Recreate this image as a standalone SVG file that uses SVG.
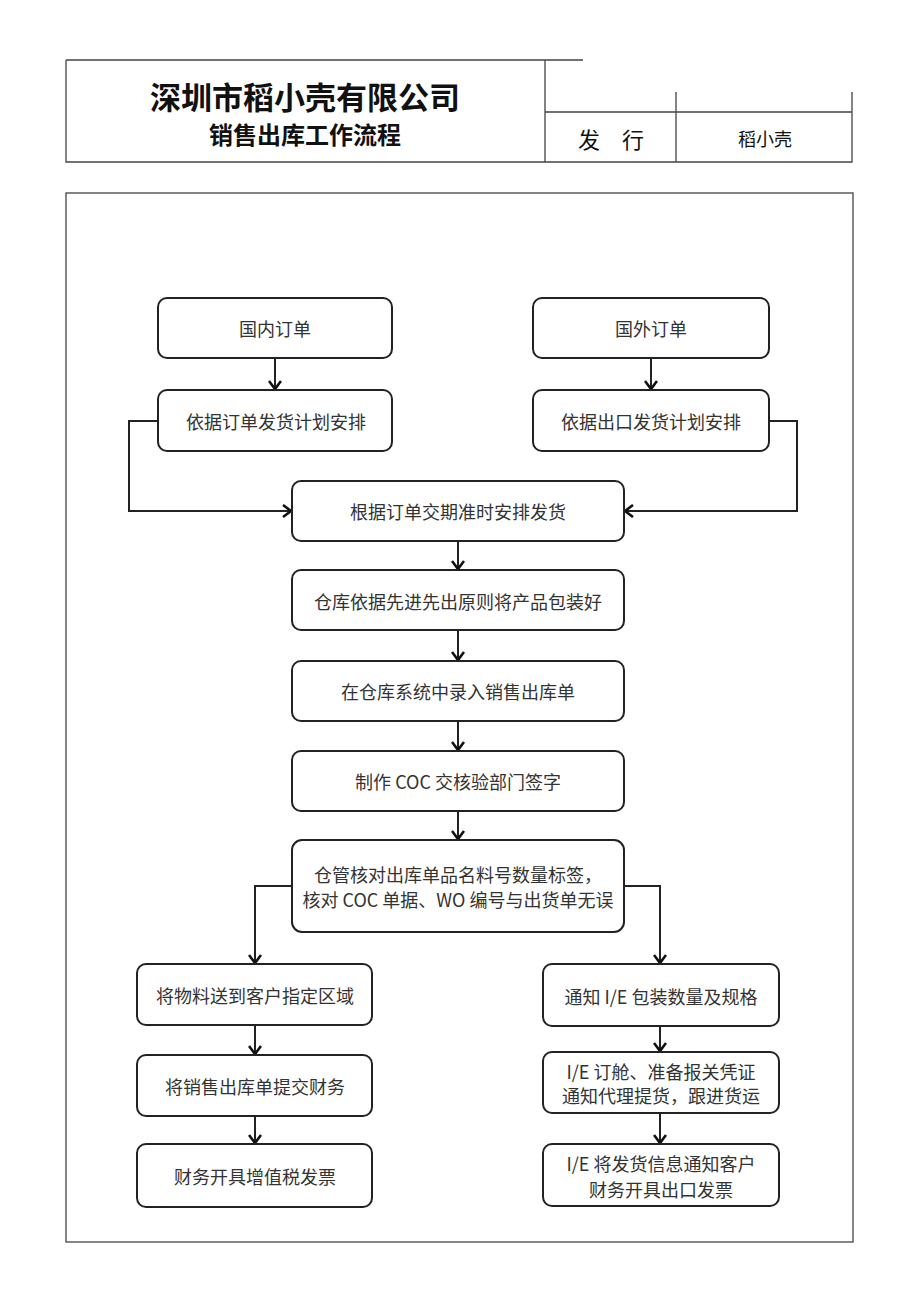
<svg xmlns="http://www.w3.org/2000/svg" width="920" height="1301" viewBox="0 0 920 1301">
<style>
.frame{fill:none;stroke:#444;stroke-width:1.3}
.node rect{fill:#fff;stroke:#222;stroke-width:2}
.t{font-family:"Noto Sans CJK SC","Liberation Serif",serif;font-size:18px;fill:#333;text-anchor:middle;dominant-baseline:central}
.h{font-family:"Noto Sans CJK SC",sans-serif;fill:#111;text-anchor:middle;dominant-baseline:central}
.c{fill:none;stroke:#222;stroke-width:2}
</style>
<defs>
<marker id="arr" markerWidth="14" markerHeight="14" refX="10" refY="7" orient="auto" markerUnits="userSpaceOnUse">
<path d="M2,1 L10,7 L2,13" fill="none" stroke="#111" stroke-width="2.6"/>
</marker>
</defs>
<rect width="920" height="1301" fill="#fff"/>
<g id="header">
<path class="frame" d="M66,60 H583 M66,60 V162 H852 V92 M545,60 V162 M676,92 V162 M545,112 H852"/>
<text class="h" x="305" y="95" font-size="31" font-weight="bold">深圳市稻小壳有限公司</text>
<text class="h" x="305" y="133" font-size="24" font-weight="bold">销售出库工作流程</text>
<text class="h" x="589" y="138" font-size="22" fill="#333">发</text>
<text class="h" x="633" y="138" font-size="22" fill="#333">行</text>
<text class="h" x="765" y="138" font-size="18" fill="#333">稻小壳</text>
</g>
<rect id="border" class="frame" x="66" y="193" width="787" height="1049"/>
<g id="connectors">
<path class="c" d="M275,358 V389" marker-end="url(#arr)"/>
<path class="c" d="M651,358 V389" marker-end="url(#arr)"/>
<path class="c" d="M158,421 H129 V511 H291" marker-end="url(#arr)"/>
<path class="c" d="M769,421 H797 V511 H625" marker-end="url(#arr)"/>
<path class="c" d="M458,541 V569" marker-end="url(#arr)"/>
<path class="c" d="M458,630 V660" marker-end="url(#arr)"/>
<path class="c" d="M458,721 V750" marker-end="url(#arr)"/>
<path class="c" d="M458,811 V839" marker-end="url(#arr)"/>
<path class="c" d="M292,886 H255 V963" marker-end="url(#arr)"/>
<path class="c" d="M624,886 H660 V963" marker-end="url(#arr)"/>
<path class="c" d="M255,1025 V1054" marker-end="url(#arr)"/>
<path class="c" d="M255,1116 V1143" marker-end="url(#arr)"/>
<path class="c" d="M660,1026 V1051" marker-end="url(#arr)"/>
<path class="c" d="M660,1113 V1143" marker-end="url(#arr)"/>
</g>
<g id="n1" class="node"><rect x="158" y="298" width="234" height="60" rx="9"/><text class="t" x="275" y="328">国内订单</text></g>
<g id="n2" class="node"><rect x="533" y="298" width="236" height="60" rx="9"/><text class="t" x="651" y="328">国外订单</text></g>
<g id="n3" class="node"><rect x="158" y="390" width="234" height="61" rx="9"/><text class="t" x="276" y="421">依据订单发货计划安排</text></g>
<g id="n4" class="node"><rect x="533" y="390" width="236" height="61" rx="9"/><text class="t" x="651" y="421">依据出口发货计划安排</text></g>
<g id="n5" class="node"><rect x="292" y="481" width="332" height="60" rx="9"/><text class="t" x="458" y="511">根据订单交期准时安排发货</text></g>
<g id="n6" class="node"><rect x="292" y="570" width="332" height="60" rx="9"/><text class="t" x="458" y="601">仓库依据先进先出原则将产品包装好</text></g>
<g id="n7" class="node"><rect x="292" y="661" width="332" height="60" rx="9"/><text class="t" x="458" y="691">在仓库系统中录入销售出库单</text></g>
<g id="n8" class="node"><rect x="292" y="751" width="332" height="60" rx="9"/><text class="t" x="458" y="781">制作 COC 交核验部门签字</text></g>
<g id="n9" class="node"><rect x="292" y="840" width="332" height="92" rx="10"/><text class="t" x="458" y="874">仓管核对出库单品名料号数量标签，</text><text class="t" x="458" y="899">核对 COC 单据、WO 编号与出货单无误</text></g>
<g id="n10" class="node"><rect x="137" y="964" width="235" height="61" rx="9"/><text class="t" x="255" y="995">将物料送到客户指定区域</text></g>
<g id="n11" class="node"><rect x="137" y="1055" width="235" height="61" rx="9"/><text class="t" x="255" y="1086">将销售出库单提交财务</text></g>
<g id="n12" class="node"><rect x="137" y="1144" width="235" height="63" rx="9"/><text class="t" x="255" y="1176">财务开具增值税发票</text></g>
<g id="n13" class="node"><rect x="543" y="964" width="236" height="62" rx="9"/><text class="t" x="661" y="996">通知 I/E 包装数量及规格</text></g>
<g id="n14" class="node"><rect x="543" y="1052" width="236" height="61" rx="9"/><text class="t" x="661" y="1071">I/E 订舱、准备报关凭证</text><text class="t" x="661" y="1095">通知代理提货，跟进货运</text></g>
<g id="n15" class="node"><rect x="543" y="1144" width="236" height="62" rx="9"/><text class="t" x="661" y="1163">I/E 将发货信息通知客户</text><text class="t" x="661" y="1189">财务开具出口发票</text></g>
</svg>
